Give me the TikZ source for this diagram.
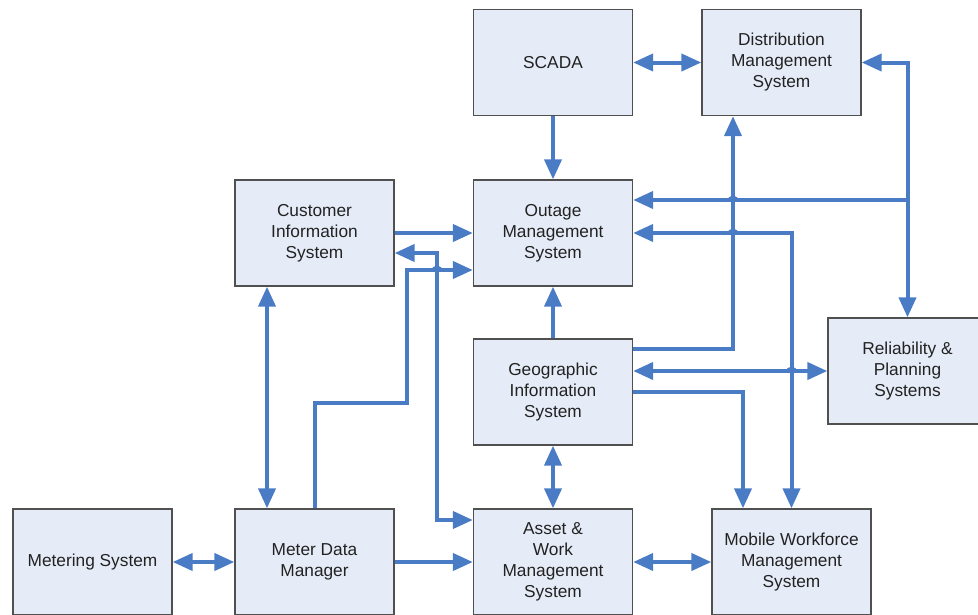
\documentclass[tikz,border=0pt]{standalone}
\usepackage{fontspec}
\setmainfont{Liberation Sans}
\usetikzlibrary{arrows.meta}
\definecolor{link}{HTML}{4A7CC6}
\definecolor{boxfill}{HTML}{E6ECF7}
\definecolor{boxline}{HTML}{505050}
\definecolor{label}{HTML}{222222}

\begin{document}
\begin{tikzpicture}[x=1pt,y=-1pt,
  sysbox/.style={draw=boxline, line width=1.3pt, fill=boxfill,
    minimum width=159pt, minimum height=106pt, inner sep=0pt,
    align=center, text=label, font=\fontsize{17.3}{21}\selectfont},
  flow/.style={draw=link, line width=4pt, -{Triangle[length=20pt,width=17pt]}},
  both/.style={draw=link, line width=4pt,
    {Triangle[length=20pt,width=17pt]}-{Triangle[length=20pt,width=17pt]}},
  hop/.style={fill=link}]
\useasboundingbox (0,0) rectangle (978,614);
\clip (0,0) rectangle (978,614);

% systems
\node[sysbox] (scada)  at (553,62.5)   {SCADA};
\node[sysbox] (dms)    at (781.5,62.5) {Distribution\\Management\\System};
\node[sysbox] (cis)    at (314.5,233)  {Customer\\Information\\System};
\node[sysbox] (oms)    at (553,233)    {Outage\\Management\\System};
\node[sysbox] (rel)    at (907.5,371)  {Reliability \&\\Planning\\Systems};
\node[sysbox] (gis)    at (553,392)    {Geographic\\Information\\System};
\node[sysbox] (meter)  at (92.5,562)   {Metering System};
\node[sysbox] (mdm)    at (314.5,562)  {Meter Data\\Manager};
\node[sysbox] (asset)  at (553,562)    {Asset \&\\Work\\Management\\System};
\node[sysbox] (mobile) at (791.5,562)  {Mobile Workforce\\Management\\System};

% junction and routing points
\coordinate (relj)  at (907.5,200);
\coordinate (mdmA)  at (314.5,403);
\coordinate (mdmB)  at (407,403);
\coordinate (mdmC)  at (407,270);
\coordinate (cisA)  at (437,253);
\coordinate (cisB)  at (437,520);

% connectors
\draw[both] (scada.east) -- (dms.west);
\draw[flow] (scada.south) -- (oms.north);
\draw[both] (dms.east) -| (rel.north);
\draw[flow] (relj) -- (oms.east |- relj);
\draw[flow] (gis.east |- 0,349) -| ([xshift=-48.5pt]dms.south);
\draw[both] (oms.east) -| (mobile.north);
\draw[both] (gis.east |- rel.west) -- (rel.west);
\draw[flow] (gis.east) -| ([xshift=-48.5pt]mobile.north);
\draw[flow] (gis.north) -- (oms.south);
\draw[both] (gis.south) -- (asset.north);
\draw[both] (asset.east) -- (mobile.west);
\draw[flow] (mdm.east) -- (asset.west);
\draw[both] (meter.east) -- (mdm.west);
\draw[both] ([xshift=-47.5pt]cis.south) -- ([xshift=-47.5pt]mdm.north);
\draw[flow] (cis.east) -- (oms.west);
\draw[flow] (mdm.north) -- (mdmA) -- (mdmB) -- (mdmC) -- (oms.west |- mdmC);
\draw[both] (cis.east |- cisA) -- (cisA) -- (cisB) -- (asset.west |- cisB);

% line hops at crossings
\foreach \p in {(733,200),(733,233),(791.5,371),(437,270)}
  \fill[hop] \p ++(-6,1) arc (180:360:6 and 5) -- cycle;
\end{tikzpicture}
\end{document}
